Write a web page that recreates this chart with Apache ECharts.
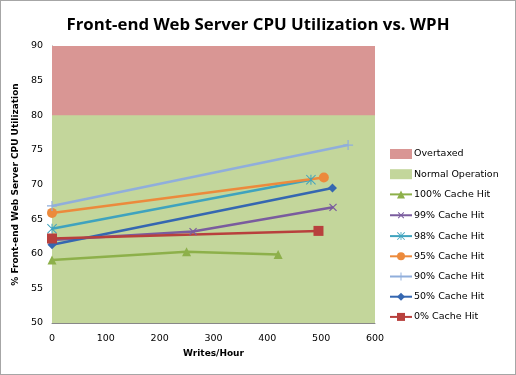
<!DOCTYPE html>
<html><head><meta charset="utf-8">
<script src="https://cdn.jsdelivr.net/npm/echarts@6/dist/echarts.min.js"></script>
<style>html,body{margin:0;padding:0;background:#fff}#c{width:514px;height:373px;border:1px solid #a6a6a6}</style>
</head><body><div id="c"></div>
<script>
// Data
const xTicks = [0, 100, 200, 300, 400, 500, 600];
const yTicks = [50, 55, 60, 65, 70, 75, 80, 85, 90];
const zoneNames = ['Overtaxed', 'Normal Operation'];
const zoneTop = [90, 80];
const seriesNames = ['100% Cache Hit', '99% Cache Hit', '98% Cache Hit', '95% Cache Hit', '90% Cache Hit', '50% Cache Hit', '0% Cache Hit'];
const writes100 = [0, 250, 420];  const cpu100 = [59.1, 60.3, 59.9];
const writes99  = [0, 262, 522];  const cpu99  = [62.0, 63.2, 66.7];
const writes98  = [0, 481];       const cpu98  = [63.6, 70.7];
const writes95  = [0, 505];       const cpu95  = [65.9, 71.0];
const writes90  = [0, 550];       const cpu90  = [66.9, 75.7];
const writes50  = [0, 521];       const cpu50  = [61.3, 69.5];
const writes0   = [0, 495];       const cpu0   = [62.2, 63.3];

const xs = [writes100, writes99, writes98, writes95, writes90, writes50, writes0];
const ys = [cpu100, cpu99, cpu98, cpu95, cpu90, cpu50, cpu0];
const colors = ['#8DB04A', '#7A5C9E', '#3FA3BE', '#EC8A3C', '#90AEDB', '#3567B1', '#B8403D'];
const plusPath = 'path://M4.4,0h1.2v4.4h4.4v1.2h-4.4v4.4h-1.2v-4.4h-4.4v-1.2h4.4z';
const starPath = 'path://M4.5,0h1v10h-1z M0,0.7L0.7,0L10,9.3L9.3,10z M9.3,0L10,0.7L0.7,10L0,9.3z';
const symbols = ['triangle', plusPath, starPath, 'circle', plusPath, 'diamond', 'rect'];
const symSizes = [9, 10, 10, 10, 10, 9, 10];
const symRot = [0, 45, 0, 0, 0, 0, 0];
const zoneColors = ['#D99694', '#C3D69B'];
const font = 'DejaVu Sans';

const series = [];
zoneNames.forEach((n, i) => {
  series.push({
    name: n, type: 'line', data: [[0, zoneTop[i]], [600, zoneTop[i]]],
    showSymbol: false, silent: true, lineStyle: { width: 0 },
    itemStyle: { color: zoneColors[i] },
    areaStyle: { color: zoneColors[i], opacity: 1, origin: 'start' },
    z: 1
  });
});
seriesNames.forEach((n, i) => {
  series.push({
    name: n, type: 'line',
    data: xs[i].map((x, j) => [x, ys[i][j]]),
    symbol: symbols[i], symbolSize: symSizes[i], symbolRotate: symRot[i],
    showAllSymbol: true,
    lineStyle: { width: 2.5, color: colors[i] },
    itemStyle: { color: colors[i], borderWidth: 0 },
    z: 3
  });
});

const chart = echarts.init(document.getElementById('c'));
chart.setOption({
  animation: false,
  title: { text: 'Front-end Web Server CPU Utilization vs. WPH', left: 'center', top: 11,
    textStyle: { fontFamily: 'Open Sans', fontWeight: 'bold', fontSize: 16.8, color: '#000' } },
  grid: { left: 51, right: 140, top: 45, bottom: 51 },
  xAxis: { type: 'value', min: 0, max: 600, interval: 100,
    name: 'Writes/Hour', nameLocation: 'middle', nameGap: 23,
    nameTextStyle: { fontFamily: font, fontWeight: 'bold', fontSize: 9, color: '#000' },
    axisLine: { lineStyle: { color: '#888' } }, axisTick: { show: false },
    axisLabel: { fontFamily: font, fontSize: 9.5, color: '#000', margin: 11 }, splitLine: { show: false } },
  yAxis: { type: 'value', min: 50, max: 90, interval: 5,
    name: '% Front-end Web Server CPU Utilization', nameLocation: 'middle', nameGap: 19,
    nameTextStyle: { fontFamily: font, fontWeight: 'bold', fontSize: 9, color: '#000' },
    axisLine: { show: true, lineStyle: { color: '#888' } }, axisTick: { show: false },
    axisLabel: { fontFamily: font, fontSize: 9.5, color: '#000', margin: 9 }, splitLine: { show: false } },
  legend: { orient: 'vertical', left: 388, top: 148, padding: 0, itemWidth: 22, itemHeight: 10, itemGap: 10.2,
    textStyle: { fontFamily: font, fontSize: 9.5, color: '#000', padding: [0, 0, 0, -3] },
    data: zoneNames.map(n => ({ name: n, icon: 'rect' })).concat(seriesNames) },
  series: series
});
</script></body></html>
